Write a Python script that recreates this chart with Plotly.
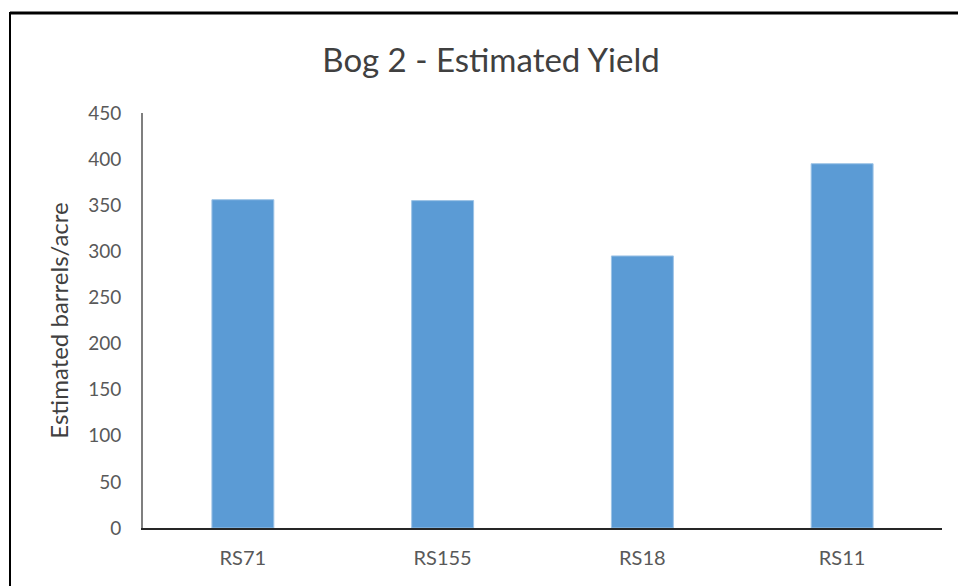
import plotly.graph_objects as go

# Estimated yield per variety (barrels/acre)
varieties = ["RS71", "RS155", "RS18", "RS11"]
yield_bpa = [356, 355, 295, 395]
y_ticks = [0, 50, 100, 150, 200, 250, 300, 350, 400, 450]

W, H = 958, 586
L, R, T, B = 143, 16, 113, 58
plot_w = W - L - R
plot_h = H - T - B

def px_x(x):
    return (x - L) / plot_w

def px_y(y):
    return (H - B - y) / plot_h

font_family = "Lato, 'Open Sans', sans-serif"
label_col = "#595959"

fig = go.Figure(
    go.Bar(
        x=varieties,
        y=yield_bpa,
        marker=dict(color="#5B9BD5", line=dict(color="#9DC3E6", width=1)),
        hoverinfo="x+y",
    )
)

fig.update_layout(
    width=W,
    height=H,
    margin=dict(l=L, r=R, t=T, b=B),
    paper_bgcolor="white",
    plot_bgcolor="white",
    bargap=0.69,
    showlegend=False,
    font=dict(family=font_family, color=label_col),
    title=dict(
        text="Bog 2 - Estimated Yield",
        x=(491 / W),
        xanchor="center",
        y=1 - 60 / H,
        yanchor="middle",
        font=dict(size=33, color="#404040", family=font_family),
    ),
    xaxis=dict(
        showline=True,
        linecolor="#262626",
        linewidth=2,
        ticks="",
        showgrid=False,
        tickfont=dict(size=20, color=label_col),
        ticklabelstandoff=11,
    ),
    yaxis=dict(
        range=[0, 450],
        tickvals=y_ticks,
        showline=True,
        linecolor="#7F7F7F",
        linewidth=2,
        ticks="",
        showgrid=False,
        zeroline=False,
        tickfont=dict(size=19, color=label_col),
        ticklabelstandoff=16,
        title=dict(
            text="Estimated barrels/acre",
            font=dict(size=24, color="#404040"),
            standoff=13,
        ),
    ),
    shapes=[
        # frame around the chart (top and left edges)
        dict(type="line", xref="paper", yref="paper",
             x0=px_x(10), x1=px_x(W + 2), y0=px_y(13), y1=px_y(13),
             line=dict(color="black", width=3)),
        dict(type="line", xref="paper", yref="paper",
             x0=px_x(10), x1=px_x(10), y0=px_y(12), y1=px_y(H + 2),
             line=dict(color="black", width=2)),
    ],
)

fig.write_html("out.html")
